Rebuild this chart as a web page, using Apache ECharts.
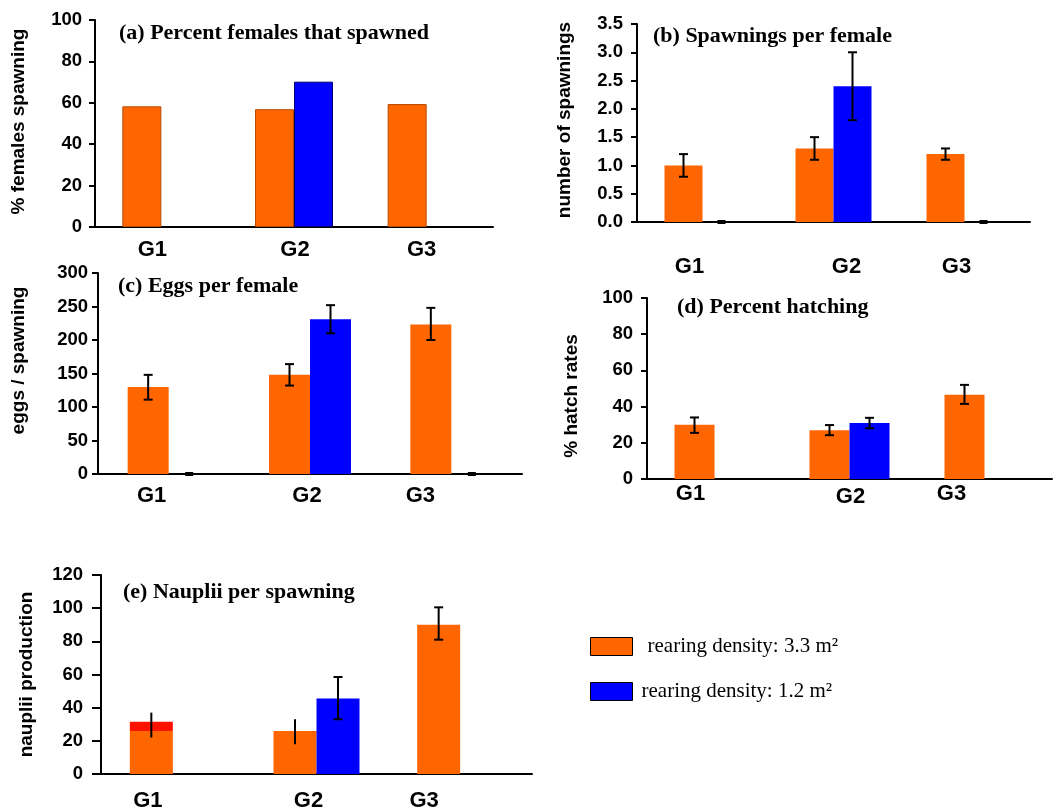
<!DOCTYPE html>
<html><head><meta charset="utf-8">
<script src="https://cdn.jsdelivr.net/npm/echarts@6/dist/echarts.min.js"></script>
<style>html,body{margin:0;padding:0;background:#fff}#chart{width:1056px;height:812px}</style>
</head><body><div id="chart"></div>
<script>
// ---------------- DATA ----------------
const categories = ['G1', 'G2', 'G3'];
const seriesNames = ['rearing density: 3.3 m²', 'rearing density: 1.2 m²'];

// (a) Percent females that spawned
const aTitle = '(a) Percent females that spawned';
const aYName = '% females spawning';
const aRange = [0, 100, 20];
const aOrange = [58.3, 56.9, 59.4];
const aBlue = ['-', 70.2, '-'];

// (b) Spawnings per female
const bTitle = '(b) Spawnings per female';
const bYName = 'number of spawnings';
const bRange = [0, 3.5, 0.5];
const bOrange = [1.0, 1.3, 1.2];
const bBlue = [0, 2.4, 0];
const bOrangeErr = [[0.8, 1.2], [1.1, 1.5], [1.1, 1.3]];
const bBlueErr = [[0, 0], [1.8, 3.0], [0, 0]];

// (c) Eggs per female
const cTitle = '(c) Eggs per female';
const cYName = 'eggs / spawning';
const cRange = [0, 300, 50];
const cOrange = [130, 148, 223];
const cBlue = [0, 231, 0];
const cOrangeErr = [[111, 148], [132, 164], [200, 248]];
const cBlueErr = [[0, 0], [210, 252], [0, 0]];

// (d) Percent hatching
const dTitle = '(d) Percent hatching';
const dYName = '% hatch rates';
const dRange = [0, 100, 20];
const dOrange = [30, 27, 46.5];
const dBlue = ['-', 31, '-'];
const dOrangeErr = [[25.5, 34], [24.2, 29.8], [41.5, 52]];
const dBlueErr = [null, [28, 33.8], null];

// (e) Nauplii per spawning
const eTitle = '(e) Nauplii per spawning';
const eYName = 'nauplii production';
const eRange = [0, 120, 20];
const eOrange = [26, 26, 90];
const eRedTop = [5.5, '-', '-'];
const eBlue = ['-', 45.5, '-'];
const eOrangeErr = [[22, 37], [18, 33], [81, 100.5]];
const eBlueErr = [null, [33, 58.5], null];

// ---------------- STYLE / LAYOUT ----------------
const ORANGE = '#FF6600', BLUE = '#0000FF', RED = '#FF1100';
const SANS = 'Liberation Sans', SERIF = 'Liberation Serif';

const panels = [
  { title: aTitle, yName: aYName, range: aRange, orange: aOrange, blue: aBlue,
    grid: { left: 95, top: 20, width: 398, height: 207 }, barWidth: 39, border: true,
    titlePos: [119, 22], xMargin: 12, xShift: [-9, 1, -5], xDy: [0, 0, 0],
    yMargin: 13, nameGap: 67, namePad: [0, 0, 0, 4], tickLen: 6 },
  { title: bTitle, yName: bYName, range: bRange, orange: bOrange, blue: bBlue,
    orangeErr: bOrangeErr, blueErr: bBlueErr, decimals: 1,
    grid: { left: 637, top: 24, width: 393, height: 198 }, barWidth: 38,
    titlePos: [653, 25], xMargin: 34, xShift: [-13, 13, -8], xDy: [0, 0, 0],
    yMargin: 14, nameGap: 63, namePad: [0, 0, 0, 6], tickLen: 6 },
  { title: cTitle, yName: cYName, range: cRange, orange: cOrange, blue: cBlue,
    orangeErr: cOrangeErr, blueErr: cBlueErr,
    grid: { left: 98, top: 273, width: 424, height: 201 }, barWidth: 41,
    titlePos: [118, 275], xMargin: 11, xShift: [-17, -3, -31], xDy: [0, 0, 0],
    yMargin: 10, nameGap: 70, namePad: [0, 0, 0, 26], tickLen: 6 },
  { title: dTitle, yName: dYName, range: dRange, orange: dOrange, blue: dBlue,
    orangeErr: dOrangeErr, blueErr: dBlueErr,
    grid: { left: 647, top: 298, width: 405, height: 181 }, barWidth: 40,
    titlePos: [677, 296], xMargin: 4, xShift: [-24, 1, -33], xDy: [0, 3, 0],
    yMargin: 14, nameGap: 66, namePad: [0, 15, 0, 0], tickLen: 6 },
  { title: eTitle, yName: eYName, range: eRange, orange: eOrange, blue: eBlue, redTop: eRedTop,
    orangeErr: eOrangeErr, blueErr: eBlueErr, orangeCaps: [false, false, true],
    grid: { left: 101, top: 575, width: 431, height: 203 }, barWidth: 43,
    titlePos: [123, 581], xMargin: 16, xShift: [-25, -8, -36], xDy: [0, 0, 0],
    yMargin: 18, nameGap: 65, namePad: [0, 0, 0, 0], tickLen: 9 }
];

function catRich(shift, dy) {
  const rich = {};
  shift.forEach((s, i) => {
    rich['g' + i] = {
      fontFamily: SANS, fontWeight: 'bold', fontSize: 22, color: '#000',
      padding: [dy[i], s < 0 ? -2 * s : 0, 0, s > 0 ? 2 * s : 0]
    };
  });
  return rich;
}

function errRender(offset, caps) {
  return function (params, api) {
    const i = api.value(0);
    const lo = api.coord([i, api.value(1)]);
    const hi = api.coord([i, api.value(2)]);
    const x = lo[0] + offset;
    const st = { stroke: '#000', lineWidth: 2 };
    if (api.value(1) === api.value(2)) {
      return { type: 'rect', shape: { x: x - 4, y: lo[1] - 2, width: 8, height: 4 }, style: { fill: '#000' } };
    }
    const children = [{ type: 'line', shape: { x1: x, y1: lo[1], x2: x, y2: hi[1] }, style: st }];
    if (!caps || caps[i]) {
      children.push({ type: 'line', shape: { x1: x - 4.5, y1: lo[1], x2: x + 4.5, y2: lo[1] }, style: st });
      children.push({ type: 'line', shape: { x1: x - 4.5, y1: hi[1], x2: x + 4.5, y2: hi[1] }, style: st });
    }
    return { type: 'group', children };
  };
}

const grids = [], xAxes = [], yAxes = [], titles = [], series = [];
panels.forEach((p, k) => {
  grids.push(Object.assign({ containLabel: false }, p.grid));
  titles.push({
    text: p.title, left: p.titlePos[0], top: p.titlePos[1], padding: 0,
    textStyle: { fontFamily: SERIF, fontWeight: 'bold', fontSize: 22, color: '#000' }
  });
  xAxes.push({
    type: 'category', gridIndex: k, data: categories,
    axisLine: { show: true, lineStyle: { color: '#000', width: 2 } },
    axisTick: { show: false },
    axisLabel: {
      margin: p.xMargin, interval: 0,
      formatter: (v, i) => '{g' + i + '|' + v + '}',
      rich: catRich(p.xShift, p.xDy)
    },
    splitLine: { show: false }
  });
  yAxes.push({
    type: 'value', gridIndex: k, min: p.range[0], max: p.range[1], interval: p.range[2],
    name: p.yName, nameLocation: 'middle', nameRotate: 90, nameGap: p.nameGap,
    nameTextStyle: { fontFamily: SANS, fontWeight: 'bold', fontSize: 19, color: '#000', padding: p.namePad },
    axisLine: { show: true, lineStyle: { color: '#000', width: 2 } },
    axisTick: { show: true, length: p.tickLen, lineStyle: { color: '#000', width: 2 } },
    axisLabel: {
      margin: p.yMargin, fontFamily: SANS, fontWeight: 'bold', fontSize: 18.5, color: '#000',
      formatter: v => p.decimals ? v.toFixed(p.decimals) : String(v)
    },
    splitLine: { show: false }
  });
  const bw = p.barWidth;
  series.push({
    type: 'bar', name: seriesNames[0], xAxisIndex: k, yAxisIndex: k, data: p.orange,
    barWidth: bw, barGap: '0%', stack: 'o' + k,
    itemStyle: p.border ? { color: ORANGE, borderColor: '#B84A00', borderWidth: 1 } : { color: ORANGE },
    emphasis: { disabled: true }, animation: false
  });
  if (p.redTop) {
    series.push({
      type: 'bar', name: 'extra', xAxisIndex: k, yAxisIndex: k, data: p.redTop,
      barWidth: bw, barGap: '0%', stack: 'o' + k, itemStyle: { color: RED },
      emphasis: { disabled: true }, animation: false
    });
  }
  series.push({
    type: 'bar', name: seriesNames[1], xAxisIndex: k, yAxisIndex: k, data: p.blue,
    barWidth: bw, barGap: '0%',
    itemStyle: p.border ? { color: BLUE, borderColor: '#00006A', borderWidth: 1 } : { color: BLUE },
    emphasis: { disabled: true }, animation: false
  });
  if (p.orangeErr) {
    series.push({
      type: 'custom', name: 'err-o' + k, xAxisIndex: k, yAxisIndex: k, z: 5,
      data: p.orangeErr.map((e, i) => e ? [i, e[0], e[1]] : null).filter(Boolean),
      encode: { x: 0, y: [1, 2] },
      renderItem: errRender(-bw / 2, p.orangeCaps), animation: false, silent: true
    });
  }
  if (p.blueErr) {
    series.push({
      type: 'custom', name: 'err-b' + k, xAxisIndex: k, yAxisIndex: k, z: 5,
      data: p.blueErr.map((e, i) => e ? [i, e[0], e[1]] : null).filter(Boolean),
      encode: { x: 0, y: [1, 2] },
      renderItem: errRender(bw / 2, null), animation: false, silent: true
    });
  }
});

const legendBase = {
  orient: 'vertical', left: 585, itemWidth: 42, itemHeight: 18, icon: 'rect', selectedMode: false,
  itemStyle: { borderColor: '#000', borderWidth: 1 }
};
const legends = [
  Object.assign({}, legendBase, { data: [seriesNames[0]], top: 631,
    textStyle: { fontFamily: SERIF, fontSize: 21, color: '#000', padding: [0, 0, 0, 10] } }),
  Object.assign({}, legendBase, { data: [seriesNames[1]], top: 676,
    textStyle: { fontFamily: SERIF, fontSize: 21, color: '#000', padding: [0, 0, 0, 4] } })
];

const chart = echarts.init(document.getElementById('chart'), null, { renderer: 'canvas' });
chart.setOption({
  backgroundColor: '#fff', animation: false,
  title: titles, grid: grids, xAxis: xAxes, yAxis: yAxes, legend: legends, series: series
});
</script></body></html>
